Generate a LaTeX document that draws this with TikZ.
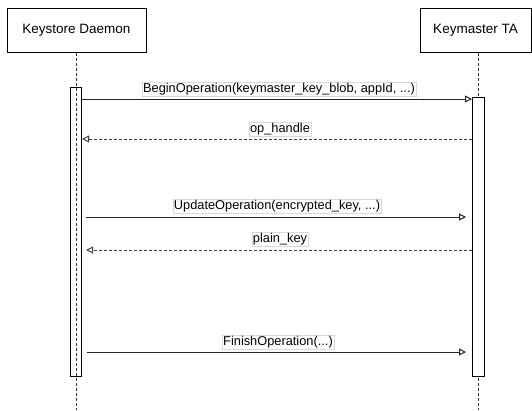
\documentclass[tikz,border=0pt]{standalone}
\usepackage{fontspec}
\setmainfont{Liberation Sans}
\usetikzlibrary{arrows.meta}
\begin{document}
\begin{tikzpicture}[x=1pt,y=-1pt,
  actor/.style={draw=black,line width=1pt,fill=white,minimum width=139pt,minimum height=44pt,inner sep=0pt,font=\fontsize{13.5}{15}\selectfont},
  lifeline/.style={draw=black!80,line width=1pt,dash pattern=on 3pt off 2pt},
  actbar/.style={draw=black,line width=1pt},
  msg/.style={draw=black!85,line width=1pt,-{Triangle[open,length=7pt,width=7pt]}},
  reply/.style={draw=black!75,line width=1pt,dash pattern=on 3pt off 2pt,-{Triangle[open,length=7pt,width=7pt]}},
  lbl/.style={fill=white,draw=black!15,line width=0.4pt,inner sep=1pt,font=\fontsize{12.8}{14}\selectfont}]
\useasboundingbox (0,0) rectangle (532,410);
% actors
\node[actor] (ks) at (76.5,30) {Keystore Daemon};
\node[actor,minimum width=111pt] (km) at (475.5,30) {Keymaster TA};
% lifelines
\coordinate (ksend) at (76,410);
\coordinate (kmend) at (478,410);
\draw[lifeline] (ks.south -| ksend) -- (ksend);
\draw[lifeline] (km.south -| kmend) -- (kmend);
% activation bars
\node[actbar,minimum width=11pt,minimum height=289pt,inner sep=0pt,anchor=north] (ksa) at (75.5,87) {};
\node[actbar,fill=white,minimum width=12pt,minimum height=279pt,inner sep=0pt,anchor=north] (kma) at (478,97) {};
% messages
\coordinate (m1s) at (81,99);  \coordinate (m1e) at (472,99);
\coordinate (m2s) at (472,139); \coordinate (m2e) at (82,139);
\coordinate (m3s) at (86,217); \coordinate (m3e) at (466,217);
\coordinate (m4s) at (472,250); \coordinate (m4e) at (86,250);
\coordinate (m5s) at (87,352); \coordinate (m5e) at (466,352);
\draw[msg] (m1s) -- (m1e);
\draw[reply] (m2s) -- (m2e);
\draw[msg] (m3s) -- (m3e);
\draw[reply] (m4s) -- (m4e);
\draw[msg] (m5s) -- (m5e);
\node[lbl] (l1) at (279,89) {BeginOperation(keymaster\_key\_blob, appId, ...)};
\node[lbl] (l2) at (280,129) {op\_handle};
\node[lbl] (l3) at (277,206) {UpdateOperation(encrypted\_key, ...)};
\node[lbl] (l4) at (280,239) {plain\_key};
\node[lbl] (l5) at (278,342) {FinishOperation(...)};
\end{tikzpicture}
\end{document}
